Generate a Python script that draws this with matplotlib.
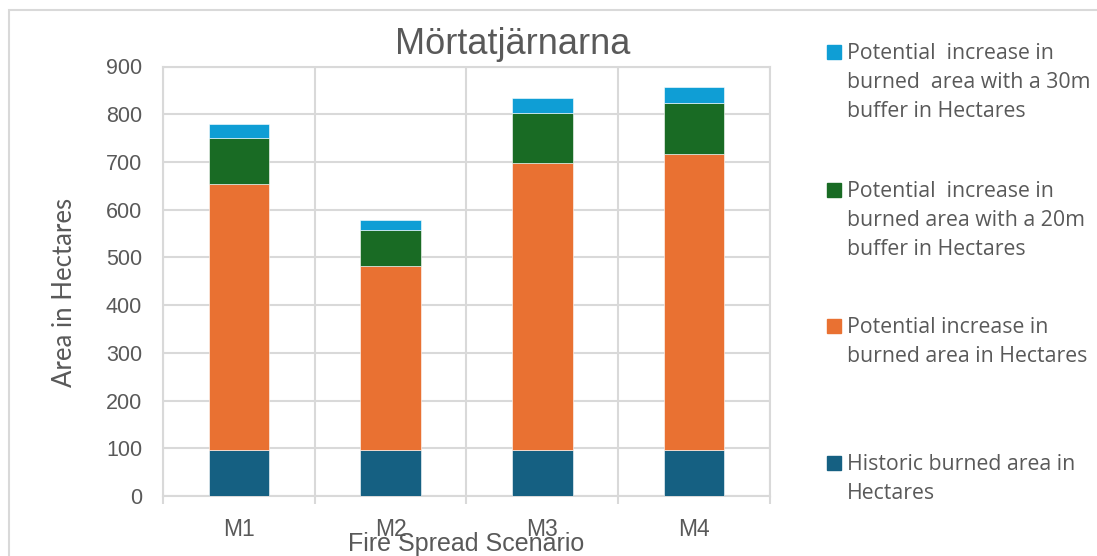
import numpy as np
import matplotlib.pyplot as plt
from matplotlib.patches import Rectangle

# ------- data (hectares)
scenarios = ['M1', 'M2', 'M3', 'M4']
historic = [96, 96, 96, 96]
increase = [557, 386, 602, 620]
buffer_20m = [97, 75, 104, 107]
buffer_30m = [30, 22, 32, 33]

labels = ['Historic burned area in\nHectares',
          'Potential increase in\nburned area in Hectares',
          'Potential  increase in\nburned area with a 20m\nbuffer in Hectares',
          'Potential  increase in\nburned  area with a 30m\nbuffer in Hectares']
colors = ['#156082', '#E97132', '#196B24', '#0F9ED5']

grey = '#595959'
grid = '#d9d9d9'
narrow = ['Liberation Sans Narrow', 'Liberation Sans', 'DejaVu Sans']
wide = ['Open Sans', 'DejaVu Sans']
plt.rcParams['font.family'] = ['Liberation Sans', 'DejaVu Sans']

fig = plt.figure(figsize=(10.97, 5.56), dpi=100)
ax = fig.add_axes([163/1097, 1 - 496/556, (770 - 163)/1097, (496 - 66.5)/556])

x = np.arange(len(scenarios))
series = [historic, increase, buffer_20m, buffer_30m]
bottom = np.zeros(len(scenarios))
for vals, col in zip(series, colors):
    ax.bar(x, vals, width=0.4, bottom=bottom, color=col,
           edgecolor='#ffffff', linewidth=0.4, zorder=3)
    bottom += np.array(vals)

ax.set_xlim(-0.5, 3.5)
ax.set_ylim(0, 900)
ax.set_yticks(range(0, 901, 100))
ax.set_xticks(x)
ax.set_xticklabels(scenarios, fontsize=16.5, color=grey, family=narrow)
ax.set_xticks(np.arange(-0.5, 4, 1), minor=True)
ax.tick_params(axis='x', which='major', length=0, pad=16)
ax.tick_params(axis='x', which='minor', length=6, color=grid, width=1.5)
ax.tick_params(axis='y', length=0, pad=15, labelsize=15.5, labelcolor=grey)

ax.grid(axis='y', color=grid, linewidth=1.5, zorder=0)
ax.grid(axis='x', which='minor', color=grid, linewidth=1.5, zorder=0)
for s in ax.spines.values():
    s.set_color(grid)
    s.set_linewidth(1.5)

fig.text(65/1097, 1 - 292/556, 'Area in Hectares', fontsize=18.5, color=grey,
         rotation=90, ha='center', va='center', family=['Lato', 'DejaVu Sans'])
fig.text(466/1097, 1 - 544/556, 'Fire Spread Scenario', fontsize=18,
         color=grey, ha='center', va='center', family=narrow)
fig.text(513/1097, 1 - 45/556, 'Mörtatjärnarna', fontsize=26, color=grey,
         ha='center', va='center', family=narrow)

# ------- legend, top entry first
legend_y = [463, 326, 190, 52]
for lab, col, yy in zip(labels, colors, legend_y):
    fig.add_artist(Rectangle((827/1097, 1 - (yy + 7)/556), 14/1097, 14/556,
                             transform=fig.transFigure, color=col))
    fig.text(847/1097, 1 - (yy - 9)/556, lab, fontsize=15.3, color=grey,
             ha='left', va='top', linespacing=1.5, family=wide)

# chart area frame
fig.add_artist(Rectangle((8.5/1097, -0.1), 1.2, 1 - 9.5/556 + 0.1,
                         transform=fig.transFigure, fill=False,
                         edgecolor=grid, linewidth=1.5))

fig.savefig('out.png', dpi=100)
